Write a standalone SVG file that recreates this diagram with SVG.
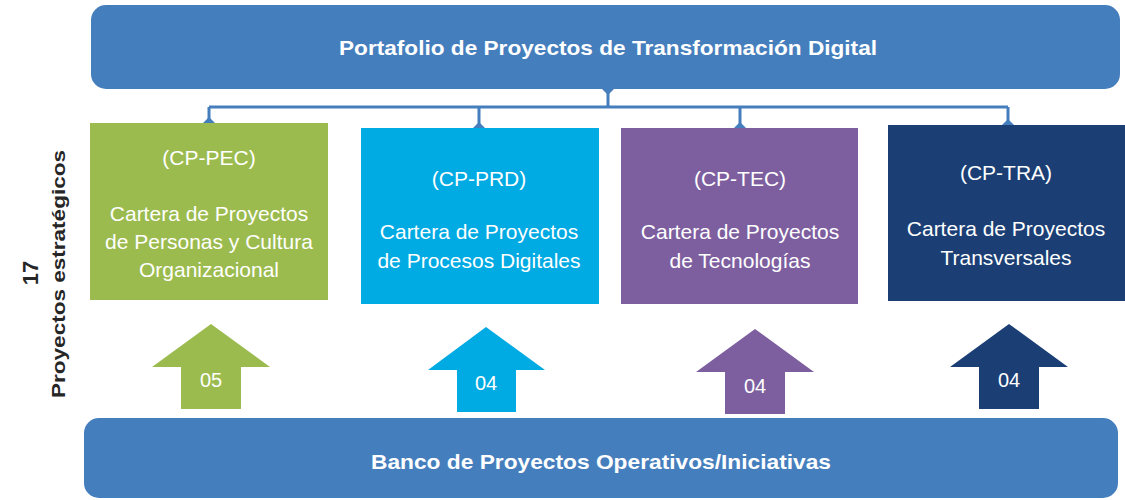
<svg xmlns="http://www.w3.org/2000/svg" width="1125" height="500" viewBox="0 0 1125 500">
<defs>
<style>
.hdr{fill:#457EBD;}
.t{font-family:"Liberation Sans",Arial,sans-serif;fill:#fff;text-anchor:middle;font-size:21px;}
.n{font-family:"Liberation Sans",Arial,sans-serif;fill:#fff;text-anchor:middle;font-size:20px;}
.b{font-family:"Liberation Sans",Arial,sans-serif;fill:#fff;text-anchor:middle;font-weight:bold;font-size:21px;}
.lbl{font-family:"Liberation Sans",Arial,sans-serif;fill:#262626;text-anchor:middle;font-weight:bold;}
.con{fill:none;stroke:#457EBD;stroke-width:3;}
.dia{fill:#457EBD;}
</style>
</defs>
<rect width="1125" height="500" fill="#fff"/>

<g id="portafolio">
<rect class="hdr" x="91" y="5" width="1029" height="84" rx="15"/>
<text class="b" x="608" y="55" textLength="538" lengthAdjust="spacingAndGlyphs">Portafolio de Proyectos de Transformación Digital</text>
</g>

<g id="connectors">
<path class="con" d="M608 89 V107 M209 107 H1008 M209 107 V123 M479 107 V128 M740 107 V128 M1008 107 V125"/>
<path class="dia" d="M608 83 l6 6 l-6 6 l-6 -6 Z"/>
<path class="dia" d="M209 117 l6 6 l-6 6 l-6 -6 Z"/>
<path class="dia" d="M479 122 l6 6 l-6 6 l-6 -6 Z"/>
<path class="dia" d="M740 122 l6 6 l-6 6 l-6 -6 Z"/>
<path class="dia" d="M1008 119 l6 6 l-6 6 l-6 -6 Z"/>
</g>

<g id="cp-pec">
<rect x="90" y="123" width="238" height="177" fill="#9BBB4E"/>
<text class="t" x="209" y="165">(CP-PEC)</text>
<text class="t" x="209" y="221">Cartera de Proyectos</text>
<text class="t" x="209" y="249">de Personas y Cultura</text>
<text class="t" x="209" y="277">Organizacional</text>
</g>

<g id="cp-prd">
<rect x="361" y="128" width="238" height="176" fill="#00AAE2"/>
<text class="t" x="479" y="186">(CP-PRD)</text>
<text class="t" x="479" y="239">Cartera de Proyectos</text>
<text class="t" x="479" y="268">de Procesos Digitales</text>
</g>

<g id="cp-tec">
<rect x="621" y="128" width="237" height="176" fill="#7D5FA0"/>
<text class="t" x="740" y="186">(CP-TEC)</text>
<text class="t" x="740" y="239">Cartera de Proyectos</text>
<text class="t" x="740" y="268">de Tecnologías</text>
</g>

<g id="cp-tra">
<rect x="888" y="125" width="237" height="176" fill="#1B3F75"/>
<text class="t" x="1006" y="180">(CP-TRA)</text>
<text class="t" x="1006" y="236">Cartera de Proyectos</text>
<text class="t" x="1006" y="265">Transversales</text>
</g>

<g id="arrow-pec">
<path d="M211 324 L270 367 H241 V409 H181 V367 H152 Z" fill="#9BBB4E"/>
<text class="n" x="211" y="387">05</text>
</g>
<g id="arrow-prd">
<path d="M486 327 L545 370 H516 V412 H457 V370 H428 Z" fill="#00AAE2"/>
<text class="n" x="486" y="390">04</text>
</g>
<g id="arrow-tec">
<path d="M755 329 L814 372 H785 V414 H725 V372 H696 Z" fill="#7D5FA0"/>
<text class="n" x="755" y="393">04</text>
</g>
<g id="arrow-tra">
<path d="M1009 324 L1068 367 H1039 V409 H979 V367 H950 Z" fill="#1B3F75"/>
<text class="n" x="1009" y="387">04</text>
</g>

<g id="banco">
<rect class="hdr" x="84" y="418" width="1034" height="80" rx="15"/>
<text class="b" x="601" y="469" textLength="460" lengthAdjust="spacingAndGlyphs">Banco de Proyectos Operativos/Iniciativas</text>
</g>

<g id="total">
<text class="lbl" font-size="22" transform="translate(38 273) rotate(-90)">17</text>
<text class="lbl" font-size="18" transform="translate(65 274) rotate(-90)" textLength="248" lengthAdjust="spacingAndGlyphs">Proyectos estratégicos</text>
</g>
</svg>
